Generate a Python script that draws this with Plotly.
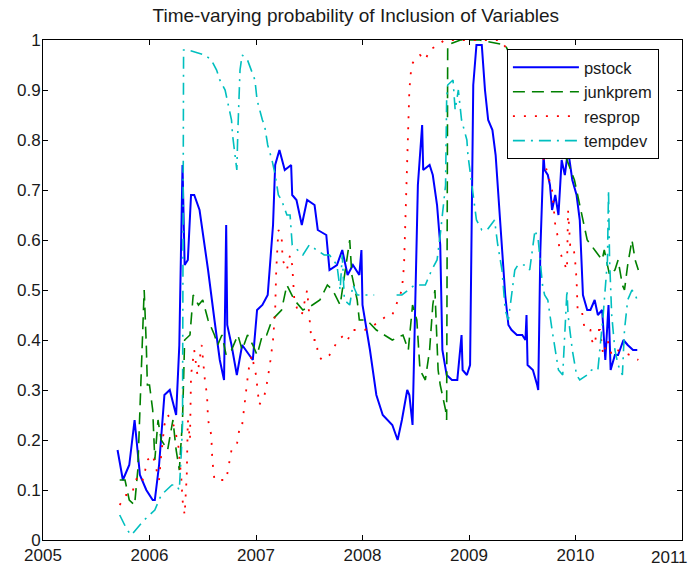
import plotly.graph_objects as go

# ---- data (decimal years, probability) ----
pstock_t = [2005.70, 2005.75, 2005.81, 2005.86, 2005.91, 2005.97, 2006.03, 2006.05, 2006.09, 2006.14,
            2006.19, 2006.25, 2006.28, 2006.31, 2006.33, 2006.36, 2006.39, 2006.42, 2006.47, 2006.52,
            2006.55, 2006.61, 2006.66, 2006.70, 2006.72, 2006.73, 2006.77, 2006.82, 2006.87, 2006.97,
            2007.01, 2007.06, 2007.11, 2007.16, 2007.18, 2007.22, 2007.27, 2007.33, 2007.34, 2007.38,
            2007.43, 2007.48, 2007.55, 2007.58, 2007.66, 2007.69, 2007.76, 2007.81, 2007.86, 2007.91,
            2007.97, 2007.99, 2008.00, 2008.07, 2008.13, 2008.19, 2008.28, 2008.33, 2008.37, 2008.42,
            2008.44, 2008.47, 2008.50, 2008.52, 2008.56, 2008.57, 2008.63, 2008.66, 2008.70, 2008.73,
            2008.75, 2008.79, 2008.84, 2008.89, 2008.93, 2008.94, 2008.98, 2009.01, 2009.04, 2009.07,
            2009.12, 2009.15, 2009.18, 2009.22, 2009.25, 2009.28, 2009.31, 2009.34, 2009.37, 2009.40,
            2009.45, 2009.50, 2009.53, 2009.54, 2009.55, 2009.60, 2009.64, 2009.65, 2009.67, 2009.69,
            2009.70, 2009.71, 2009.74, 2009.76, 2009.78, 2009.81, 2009.84, 2009.87, 2009.90, 2009.93,
            2009.97, 2010.01, 2010.04, 2010.07, 2010.11, 2010.14, 2010.18, 2010.21, 2010.25, 2010.28,
            2010.31, 2010.33, 2010.37, 2010.40, 2010.45, 2010.49, 2010.54, 2010.58]
pstock_v = [0.18, 0.12, 0.15, 0.24, 0.13, 0.10, 0.08, 0.08, 0.15, 0.29,
            0.30, 0.25, 0.39, 0.75, 0.55, 0.56, 0.69, 0.69, 0.66, 0.59,
            0.54, 0.44, 0.36, 0.32, 0.63, 0.43, 0.39, 0.33, 0.39, 0.36,
            0.46, 0.47, 0.49, 0.63, 0.75, 0.78, 0.74, 0.75, 0.69, 0.68,
            0.63, 0.68, 0.67, 0.62, 0.61, 0.54, 0.55, 0.58, 0.53, 0.55,
            0.53, 0.58, 0.47, 0.38, 0.29, 0.25, 0.23, 0.20, 0.24, 0.30,
            0.29, 0.23, 0.49, 0.71, 0.83, 0.74, 0.75, 0.73, 0.67, 0.59,
            0.38, 0.33, 0.32, 0.32, 0.41, 0.34, 0.33, 0.35, 0.91, 0.99,
            0.99, 0.90, 0.84, 0.82, 0.77, 0.67, 0.59, 0.49, 0.43, 0.42,
            0.41, 0.41, 0.40, 0.45, 0.35, 0.34, 0.31, 0.30, 0.58, 0.69,
            0.77, 0.74, 0.73, 0.71, 0.66, 0.69, 0.65, 0.76, 0.73, 0.78,
            0.72, 0.69, 0.64, 0.49, 0.46, 0.46, 0.48, 0.45, 0.46, 0.36,
            0.47, 0.34, 0.37, 0.37, 0.40, 0.39, 0.38, 0.38]

junk_t = [2005.72, 2005.77, 2005.81, 2005.86, 2005.89, 2005.92, 2005.95, 2005.97, 2005.98, 2006.00,
          2006.03, 2006.05, 2006.08, 2006.11, 2006.14, 2006.17, 2006.22, 2006.25, 2006.28, 2006.31,
          2006.33, 2006.38, 2006.41, 2006.46, 2006.50, 2006.55, 2006.61, 2006.64, 2006.68, 2006.72,
          2006.77, 2006.83, 2006.87, 2006.92, 2006.97, 2007.01, 2007.06, 2007.10, 2007.15, 2007.24,
          2007.29, 2007.36, 2007.44, 2007.53, 2007.60, 2007.67, 2007.72, 2007.79, 2007.88, 2007.90,
          2007.95, 2007.97, 2008.04, 2008.13, 2008.28, 2008.38, 2008.43, 2008.47, 2008.51, 2008.54,
          2008.59, 2008.63, 2008.66, 2008.68, 2008.71, 2008.73, 2008.78, 2008.79, 2008.80, 2008.92,
          2009.10, 2009.34, 2009.50, 2009.65, 2009.70, 2009.87, 2009.92, 2009.99, 2010.02, 2010.06,
          2010.09, 2010.11, 2010.18, 2010.25, 2010.27, 2010.32, 2010.37, 2010.40, 2010.44, 2010.46,
          2010.49, 2010.53, 2010.56, 2010.59]
junk_v = [0.12, 0.12, 0.08, 0.07, 0.14, 0.34, 0.50, 0.39, 0.31, 0.31,
          0.26, 0.16, 0.24, 0.20, 0.19, 0.18, 0.24, 0.18, 0.14, 0.24,
          0.40, 0.41, 0.49, 0.47, 0.48, 0.44, 0.41, 0.39, 0.41, 0.37,
          0.38, 0.41, 0.38, 0.41, 0.39, 0.37, 0.41, 0.41, 0.44, 0.46,
          0.51, 0.48, 0.46, 0.47, 0.48, 0.51, 0.50, 0.47, 0.60, 0.53,
          0.48, 0.44, 0.44, 0.42, 0.40, 0.41, 0.38, 0.47, 0.44, 0.34,
          0.32, 0.38, 0.47, 0.50, 0.34, 0.31, 0.26, 0.24, 0.99, 1.00,
          1.00, 0.99, 0.92, 0.85, 0.80, 0.79, 0.76, 0.72, 0.69, 0.65,
          0.62, 0.60, 0.58, 0.56, 0.58, 0.53, 0.54, 0.56, 0.51, 0.50,
          0.55, 0.60, 0.56, 0.54]

resp_t = [2005.72, 2005.78, 2005.83, 2005.89, 2005.94, 2005.98, 2006.03, 2006.09, 2006.11, 2006.14,
          2006.17, 2006.21, 2006.24, 2006.27, 2006.30, 2006.31, 2006.33, 2006.35, 2006.36, 2006.38,
          2006.39, 2006.42, 2006.45, 2006.49, 2006.52, 2006.54, 2006.55, 2006.58, 2006.59, 2006.61,
          2006.72, 2006.77, 2006.82, 2006.85, 2006.87, 2006.89, 2006.91, 2006.93, 2006.96, 2007.00,
          2007.03, 2007.08, 2007.10, 2007.13, 2007.16, 2007.18, 2007.19, 2007.20, 2007.21, 2007.24,
          2007.25, 2007.29, 2007.32, 2007.34, 2007.36, 2007.39, 2007.43, 2007.48, 2007.52, 2007.57,
          2007.58, 2007.62, 2007.69, 2007.72, 2007.77, 2007.83, 2007.86, 2007.91, 2007.95, 2008.02,
          2008.11, 2008.24, 2008.28, 2008.37, 2008.39, 2008.40, 2008.42, 2008.43, 2008.44, 2008.46,
          2008.49, 2008.54, 2008.59, 2008.63, 2008.71, 2008.77, 2009.29, 2009.48, 2009.62, 2009.69,
          2009.74, 2009.78, 2009.81, 2009.84, 2009.85, 2009.88, 2009.92, 2009.93, 2009.95, 2009.98,
          2010.00, 2010.01, 2010.02, 2010.06, 2010.07, 2010.09, 2010.14, 2010.15, 2010.18, 2010.20,
          2010.23, 2010.26, 2010.30, 2010.34, 2010.39, 2010.51, 2010.59]
resp_v = [0.07, 0.09, 0.09, 0.13, 0.12, 0.16, 0.17, 0.12, 0.17, 0.23,
          0.25, 0.24, 0.22, 0.19, 0.12, 0.08, 0.05, 0.13, 0.24, 0.20,
          0.33, 0.38, 0.33, 0.39, 0.32, 0.29, 0.24, 0.21, 0.16, 0.12,
          0.12, 0.18, 0.19, 0.23, 0.23, 0.27, 0.30, 0.34, 0.37, 0.33,
          0.27, 0.29, 0.31, 0.35, 0.40, 0.46, 0.54, 0.60, 0.62, 0.61,
          0.56, 0.54, 0.57, 0.55, 0.48, 0.46, 0.45, 0.50, 0.40, 0.40,
          0.37, 0.36, 0.37, 0.38, 0.40, 0.41, 0.40, 0.42, 0.42, 0.42,
          0.43, 0.45, 0.45, 0.50, 0.55, 0.62, 0.72, 0.81, 0.90, 0.95,
          0.96, 0.97, 0.96, 0.98, 0.99, 1.00, 1.00, 0.95, 0.85, 0.77,
          0.73, 0.70, 0.63, 0.60, 0.58, 0.56, 0.54, 0.66, 0.59, 0.59,
          0.55, 0.52, 0.46, 0.46, 0.44, 0.42, 0.42, 0.40, 0.39, 0.42,
          0.42, 0.37, 0.40, 0.37, 0.38, 0.37, 0.36]

temp_t = [2005.72, 2005.79, 2005.83, 2005.91, 2005.95, 2006.00, 2006.05, 2006.11, 2006.16, 2006.21,
          2006.25, 2006.28, 2006.30, 2006.31, 2006.32, 2006.36, 2006.52, 2006.58, 2006.63, 2006.66,
          2006.71, 2006.73, 2006.77, 2006.78, 2006.80, 2006.82, 2006.83, 2006.84, 2006.85, 2006.87,
          2006.92, 2006.99, 2007.01, 2007.06, 2007.08, 2007.11, 2007.15, 2007.18, 2007.21, 2007.24,
          2007.29, 2007.32, 2007.34, 2007.39, 2007.44, 2007.50, 2007.57, 2007.64, 2007.69, 2007.76,
          2007.79, 2007.81, 2007.83, 2007.88, 2007.91, 2007.95, 2008.00, 2008.11, 2008.21, 2008.32,
          2008.37, 2008.43, 2008.49, 2008.59, 2008.65, 2008.70, 2008.73, 2008.78, 2008.79, 2008.80,
          2008.85, 2008.87, 2008.90, 2008.93, 2008.98, 2008.99, 2009.04, 2009.07, 2009.12, 2009.17,
          2009.24, 2009.27, 2009.31, 2009.34, 2009.37, 2009.43, 2009.46, 2009.53, 2009.57, 2009.62,
          2009.65, 2009.69, 2009.71, 2009.74, 2009.78, 2009.81, 2009.84, 2009.88, 2009.92, 2009.93,
          2009.97, 2010.01, 2010.04, 2010.11, 2010.15, 2010.21, 2010.26, 2010.30, 2010.31, 2010.32,
          2010.34, 2010.37, 2010.40, 2010.44, 2010.46, 2010.49, 2010.53, 2010.56, 2010.58]
temp_v = [0.05, 0.02, 0.01, 0.03, 0.04, 0.05, 0.06, 0.09, 0.10, 0.11,
          0.11, 0.10, 0.18, 0.23, 0.98, 0.98, 0.97, 0.96, 0.94, 0.92,
          0.90, 0.88, 0.84, 0.81, 0.78, 0.74, 0.82, 0.89, 0.94, 0.97,
          0.96, 0.92, 0.88, 0.84, 0.83, 0.79, 0.76, 0.73, 0.69, 0.68,
          0.65, 0.65, 0.59, 0.58, 0.57, 0.59, 0.58, 0.57, 0.57, 0.55,
          0.50, 0.57, 0.48, 0.47, 0.51, 0.49, 0.49, 0.49, None, 0.49,
          0.49, 0.50, 0.51, 0.51, 0.54, 0.56, 0.61, 0.71, 0.88, 0.91,
          0.92, 0.86, 0.90, 0.84, 0.80, 0.77, 0.69, 0.64, 0.62, 0.62,
          0.64, 0.59, 0.54, 0.46, 0.44, 0.54, 0.55, 0.55, 0.54, 0.62,
          0.60, 0.51, 0.49, 0.48, 0.42, 0.38, 0.34, 0.33, 0.50, 0.45,
          0.38, 0.33, 0.32, 0.33, 0.34, 0.34, 0.45, 0.56, 0.70, 0.56,
          0.45, 0.38, 0.35, 0.33, 0.42, 0.48, 0.50, 0.49, 0.48]

x_ticks = [2005, 2006, 2007, 2008, 2009, 2010, 2011]
x_tick_text = ["2005", "2006", "2007", "2008", "2009", "2010", ""]
last_x_label = "2011"
y_ticks = [0, 0.1, 0.2, 0.3, 0.4, 0.5, 0.6, 0.7, 0.8, 0.9, 1]
y_tick_text = ["0", "0.1", "0.2", "0.3", "0.4", "0.5", "0.6", "0.7", "0.8", "0.9", "1"]

FONT = "Liberation Sans, Arial, sans-serif"
TXT = "#1a1a1a"

fig = go.Figure()
fig.add_trace(go.Scatter(x=pstock_t, y=pstock_v, name="pstock", mode="lines",
                         line=dict(color="#0000ff", width=2)))
fig.add_trace(go.Scatter(x=junk_t, y=junk_v, name="junkprem", mode="lines",
                         line=dict(color="#008000", width=1.6, dash="12px,7px")))
fig.add_trace(go.Scatter(x=resp_t, y=resp_v, name="resprop", mode="lines",
                         line=dict(color="#ff0000", width=1.8, dash="2px,9px")))
fig.add_trace(go.Scatter(x=temp_t, y=temp_v, name="tempdev", mode="lines", connectgaps=False,
                         line=dict(color="#00bfbf", width=1.6, dash="12px,6px,2px,6px")))

axis_common = dict(showgrid=False, zeroline=False, showline=True, linecolor="black",
                   linewidth=1, mirror="allticks", ticks="inside", ticklen=5,
                   tickcolor="black", ticklabeloverflow="allow", automargin=False,
                   tickfont=dict(family=FONT, size=17, color=TXT))

# last x tick label kept inside the window (as in the reference)
fig.add_annotation(x=x_ticks[-1], xref="x", y=0, yref="paper", text=last_x_label,
                   showarrow=False, xanchor="right", yanchor="top", xshift=8, yshift=-6,
                   font=dict(family=FONT, size=17, color=TXT))

fig.update_layout(
    width=695, height=564,
    paper_bgcolor="white", plot_bgcolor="white",
    margin=dict(l=43, r=13, t=40, b=24, autoexpand=False),
    title=dict(text="Time-varying probability of Inclusion of Variables",
               x=0.512, xanchor="center", y=0.973, yanchor="middle",
               font=dict(family=FONT, size=19, color=TXT)),
    xaxis=dict(range=[2005, 2011], tickvals=x_ticks, ticktext=x_tick_text,
               ticklabelstandoff=0, **axis_common),
    yaxis=dict(range=[0, 1], tickvals=y_ticks, ticktext=y_tick_text,
               ticklabelstandoff=-2, **axis_common),
    legend=dict(x=0.726, y=0.982, xanchor="left", yanchor="top",
                bgcolor="white", bordercolor="black", borderwidth=1,
                font=dict(family=FONT, size=16.5, color=TXT),
                itemwidth=66, tracegroupgap=0),
    showlegend=True,
)

fig.write_html("out.html", config={"displayModeBar": False},
               post_script="document.body.style.margin='0';document.body.style.overflow='hidden';")
